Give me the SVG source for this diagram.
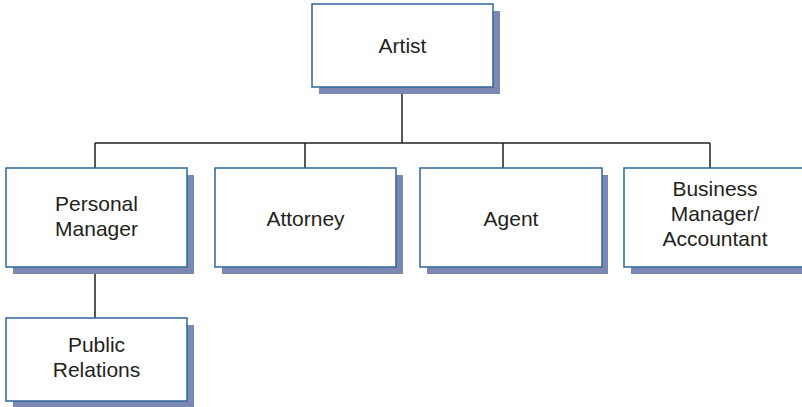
<svg xmlns="http://www.w3.org/2000/svg" width="802" height="407" viewBox="0 0 802 407">
<style>
.shadow{fill:#7a88b3;}
.box{fill:#ffffff;stroke:#2f6699;stroke-width:1.5;}
.lbl{font-family:"Liberation Sans",Arial,sans-serif;font-size:21px;fill:#231f20;text-anchor:middle;}
.conn{fill:none;stroke:#231f20;stroke-width:1.5;}
</style>
<rect width="802" height="407" fill="#ffffff"/>
<g id="connectors">
<path class="conn" d="M402,87 V143 M95,143 H710 M95,143 V168 M305,143 V168 M503,143 V168 M710,143 V168 M95,267 V318"/>
</g>
<g id="artist">
<rect class="shadow" x="319" y="11" width="181" height="83"/>
<rect class="box" x="312" y="4" width="181" height="83"/>
<text class="lbl" x="402.5" y="53">Artist</text>
</g>
<g id="personal-manager">
<rect class="shadow" x="13" y="175" width="181" height="99"/>
<rect class="box" x="6" y="168" width="181" height="99"/>
<text class="lbl" x="96.5" y="211">Personal</text>
<text class="lbl" x="96.5" y="236">Manager</text>
</g>
<g id="attorney">
<rect class="shadow" x="222" y="175" width="181" height="99"/>
<rect class="box" x="215" y="168" width="181" height="99"/>
<text class="lbl" x="305.5" y="226">Attorney</text>
</g>
<g id="agent">
<rect class="shadow" x="427" y="175" width="181" height="99"/>
<rect class="box" x="420" y="168" width="182" height="99"/>
<text class="lbl" x="511" y="226">Agent</text>
</g>
<g id="business-manager">
<rect class="shadow" x="631" y="175" width="181" height="99"/>
<rect class="box" x="624" y="168" width="181" height="99"/>
<text class="lbl" x="715" y="196">Business</text>
<text class="lbl" x="715" y="221">Manager/</text>
<text class="lbl" x="715" y="246">Accountant</text>
</g>
<g id="public-relations">
<rect class="shadow" x="13" y="325" width="181" height="83"/>
<rect class="box" x="6" y="318" width="181" height="83"/>
<text class="lbl" x="96.5" y="352">Public</text>
<text class="lbl" x="96.5" y="377">Relations</text>
</g>
</svg>
